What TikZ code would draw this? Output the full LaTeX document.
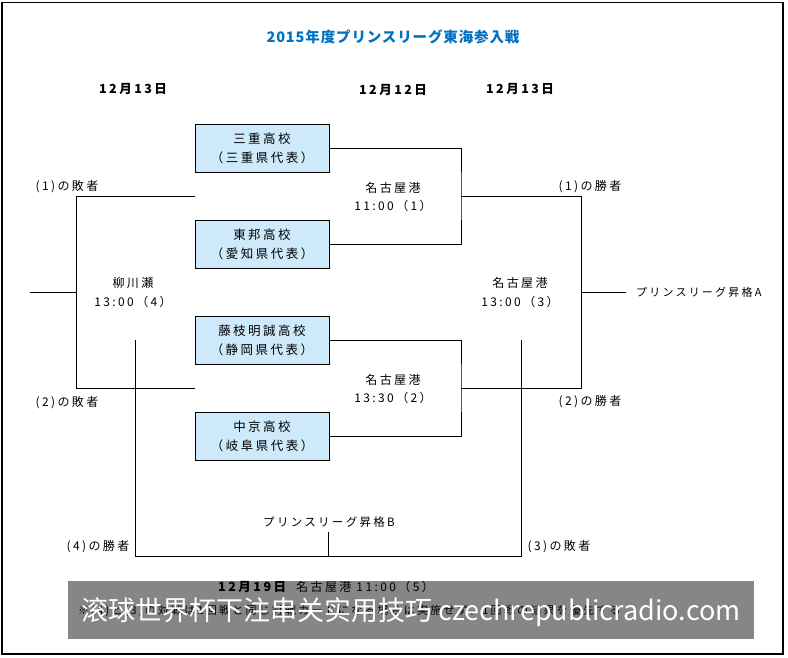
\documentclass[tikz,border=0pt]{standalone}
\usepackage{fontspec}
\newfontfamily\jpfont[LetterSpace=20]{Noto Sans CJK JP}
\newfontfamily\jptitle[LetterSpace=6]{Noto Sans CJK JP}
\newfontfamily\scfont{Noto Sans CJK SC}
\definecolor{teamblue}{RGB}{205,233,250}
\definecolor{titleblue}{RGB}{0,112,192}
\definecolor{bargrey}{RGB}{134,134,134}
\begin{document}
\begin{tikzpicture}[x=1pt,y=-1pt,
  txt/.style={font=\jpfont\fontsize{12}{18.5}\selectfont, inner sep=0pt, align=center},
  boldtxt/.style={font=\jpfont\bfseries\fontsize{12.5}{15}\selectfont, inner sep=0pt},
  team/.style={draw, fill=teamblue, line width=0.9pt, minimum width=134pt, minimum height=48pt, inner sep=0pt, align=center, font=\jpfont\fontsize{12.5}{19}\selectfont},
  wire/.style={line width=0.9pt}]
\useasboundingbox (0,0) rectangle (788,657);
\draw[line width=1.1pt] (2,2.5) rectangle (783,654);

% title and dates
\node[font=\jptitle\bfseries\fontsize{14.5}{16}\selectfont, text=titleblue, inner sep=0pt] (title) at (393,37) {2015年度プリンスリーグ東海参入戦};
\node[boldtxt] (d1) at (133,89) {12月13日};
\node[boldtxt] (d2) at (393,90) {12月12日};
\node[boldtxt] (d3) at (520,89) {12月13日};

% teams
\node[team] (t1) at (262,148) {三重高校\\（三重県代表）};
\node[team] (t2) at (262,244.5) {東邦高校\\（愛知県代表）};
\node[team] (t3) at (262,340) {藤枝明誠高校\\（静岡県代表）};
\node[team] (t4) at (262,436) {中京高校\\（岐阜県代表）};

% bracket coordinates
\coordinate (g1) at (461,196);
\coordinate (g2) at (461,388);
\coordinate (w1) at (581,196);
\coordinate (w2) at (581,388);
\coordinate (g3) at (581,292);
\coordinate (pA) at (626,292);
\coordinate (l1) at (195,196);
\coordinate (l2) at (195,388);
\coordinate (c1) at (76,196);
\coordinate (c2) at (76,388);
\coordinate (g4) at (76,292);
\coordinate (o4) at (30,292);
\coordinate (b1) at (135,340);
\coordinate (b2) at (135,556);
\coordinate (b3) at (521,556);
\coordinate (b4) at (521,340);
\coordinate (bm) at (328,556);
\coordinate (pB) at (328,532);

% connectors
\draw[wire] (t1.east) -| (g1) |- (t2.east);
\draw[wire] (t3.east) -| (g2) |- (t4.east);
\draw[wire] (g1) -- (w1) -- (w2) -- (g2);
\draw[wire] (g3) -- (pA);
\draw[wire] (l1) -- (c1) -- (c2) -- (l2);
\draw[wire] (g4) -- (o4);
\draw[wire] (b1) -- (b2) -- (b3) -- (b4);
\draw[wire] (bm) -- (pB);

% labels
\node[txt] (m1) at (393,197) {名古屋港\\11:00（1）};
\node[txt] (m2) at (393,389) {名古屋港\\13:30（2）};
\node[txt] (m3) at (520,292.5) {名古屋港\\13:00（3）};
\node[txt] (m4) at (133,292.5) {柳川瀬\\13:00（4）};
\node[txt] (lo1) at (67,187) {(1)の敗者};
\node[txt] (lo2) at (67,403) {(2)の敗者};
\node[txt] (wi1) at (590,187) {(1)の勝者};
\node[txt] (wi2) at (590,402) {(2)の勝者};
\node[txt, anchor=west, font=\jpfont\fontsize{11}{13}\selectfont] (promA) at (636,292) {プリンスリーグ昇格A};
\node[txt, font=\jpfont\fontsize{11.5}{13}\selectfont] (promB) at (329,522) {プリンスリーグ昇格B};
\node[txt] (wi4) at (98,547) {(4)の勝者};
\node[txt] (lo3) at (559,547) {(3)の敗者};

% bottom bar overlay
\fill[bargrey] (68,581) rectangle (754,639);
\node[boldtxt, anchor=west] (d5) at (218,587) {12月19日};
\node[txt, anchor=west] (m5) at (296,587) {名古屋港 11:00（5）};
\node[txt, anchor=west, font=\jpfont\fontsize{11}{13}\selectfont] (note) at (78,611) {※(4)と(3)の対戦は1回戦と同じ対戦カードになる場合は実施せず、1回戦の結果を優先する};
\node[font=\scfont\fontsize{27}{30}\selectfont, text=white, inner sep=0pt] (wm) at (411,612) {滚球世界杯下注串关实用技巧 czechrepublicradio.com};
\end{tikzpicture}
\end{document}
